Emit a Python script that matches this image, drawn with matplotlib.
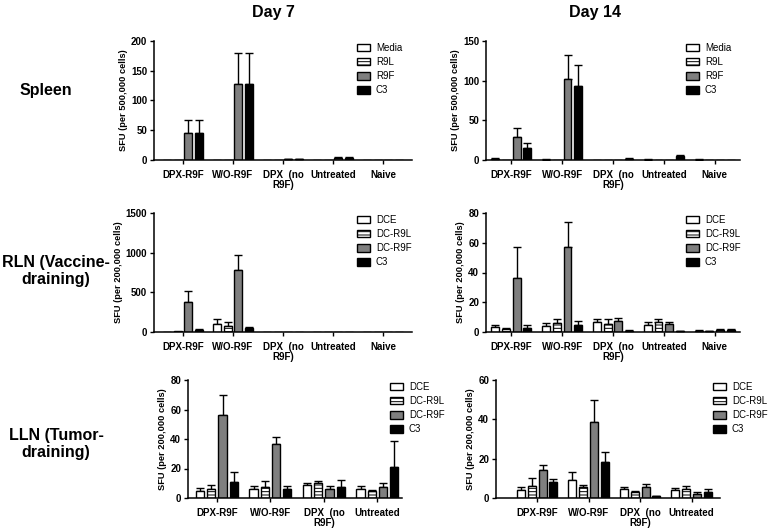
import numpy as np
import matplotlib.pyplot as plt
from matplotlib.patches import Patch

plt.rcParams['font.family'] = ['Liberation Sans', 'DejaVu Sans']
plt.rcParams['hatch.linewidth'] = 0.7

groups5 = ['DPX-R9F', 'W/O-R9F', 'DPX  (no\nR9F)', 'Untreated', 'Naive']
groups4 = groups5[:4]
spleen_series = ['Media', 'R9L', 'R9F', 'C3']
ln_series = ['DCE', 'DC-R9L', 'DC-R9F', 'C3']

# rows = series, columns = groups
spleen7 = [[0, 0, 0, 0, 0],
           [0, 0, 0, 0, 0],
           [45, 128, 1.5, 3.5, 0],
           [45, 128, 1.5, 3.5, 0]]
spleen7_err = [[0, 0, 0, 0, 0],
               [0, 0, 0, 0, 0],
               [22, 52, 0.5, 1, 0],
               [22, 52, 0.5, 1, 0]]

spleen14 = [[1.8, 0.6, 0, 0.5, 0.5],
            [0.5, 0.5, 0.5, 0.3, 0],
            [29, 101.5, 0, 0, 0],
            [15.5, 93, 1.5, 4.5, 0]]
spleen14_err = [[0.5, 0.2, 0, 0.2, 0.2],
                [0, 0, 0, 0, 0],
                [11, 31, 0, 0, 0],
                [6.3, 27, 0.5, 1.7, 0]]

rln7 = [[5, 100, 3, 2, 0],
        [8, 78, 3, 2, 0],
        [378, 778, 0, 0, 0],
        [30, 50, 0, 0, 0]]
rln7_err = [[0, 62, 0, 0, 0],
            [0, 45, 0, 0, 0],
            [135, 197, 0, 0, 0],
            [5, 18, 0, 0, 0]]

rln14 = [[3.5, 4, 6.5, 5, 1],
         [2, 6, 5.5, 6.5, 0.5],
         [36, 57, 7.5, 5.5, 1.5],
         [3, 5, 1, 0.5, 1.5]]
rln14_err = [[1.5, 2, 2, 2, 0.2],
             [0.5, 3, 3.5, 2.5, 0.2],
             [21, 17, 2, 1, 0.3],
             [1.8, 2.5, 0.3, 0.2, 0.5]]

lln7 = [[4.9, 6.4, 9.1, 6.2],
        [6.2, 7.5, 10.4, 4.7],
        [56, 36.7, 6.4, 7.5],
        [10.7, 6.2, 7.5, 21.3]]
lln7_err = [[2.1, 1.8, 1.3, 1.8],
            [2.5, 3.8, 1.1, 0.8],
            [14, 4.6, 2, 2.9],
            [6.6, 1.8, 4.9, 17.1]]

lln14 = [[4.2, 9.3, 4.8, 4],
         [6.3, 5.5, 3, 4.5],
         [14.3, 38.5, 5.5, 2.2],
         [8.3, 18.3, 1, 3.3]]
lln14_err = [[1.6, 3.7, 1, 1],
             [3.9, 1, 0.7, 1.8],
             [2.4, 11.2, 1.8, 0.6],
             [1.2, 5, 0.2, 1.4]]

face = ['white', 'white', '#7f7f7f', 'black']
hatch = [None, '-----', None, None]

W, H = 769, 530
fig = plt.figure(figsize=(W / 100, H / 100), dpi=100)


def px_rect(x0, y0, x1, y1):
    return [x0 / W, 1 - y1 / H, (x1 - x0) / W, (y1 - y0) / H]


def panel(rect, vals, errs, groups, series, ylim, yticks, ylabel, xlim, leg_xy):
    ax = fig.add_axes(px_rect(*rect))
    x = np.arange(len(groups))
    for i in range(4):
        pos = x + (i - 1.5) * 0.21
        v = np.array(vals[i], dtype=float)
        e = np.array(errs[i], dtype=float)
        ax.bar(pos, v, 0.155, color=face[i], edgecolor='black', lw=1.0,
               hatch=hatch[i], zorder=2)
        m = e > 0
        if m.any():
            ax.errorbar(pos[m], v[m], yerr=[np.zeros(m.sum()), e[m]], fmt='none',
                        ecolor='black', elinewidth=1.0, capsize=3, capthick=1.0, zorder=1)
    ax.set_xlim(*xlim)
    ax.set_ylim(*ylim)
    ax.set_yticks(yticks)
    ax.set_xticks(x)
    ax.set_xticklabels(groups, fontsize=7, fontweight='bold', linespacing=1.05)
    for t in ax.get_yticklabels():
        t.set_fontsize(7)
        t.set_fontweight('bold')
    ax.set_ylabel(ylabel, fontsize=6.7, fontweight='bold', labelpad=2)
    for s in ['top', 'right']:
        ax.spines[s].set_visible(False)
    for s in ['left', 'bottom']:
        ax.spines[s].set_linewidth(1.1)
    ax.tick_params(length=3, width=1.0, pad=2)
    ax.tick_params(axis='x', pad=4)
    handles = [Patch(facecolor=face[i], edgecolor='black', hatch=hatch[i], lw=1.0)
               for i in range(4)]
    fig.legend(handles, series, loc='upper left',
               bbox_to_anchor=(leg_xy[0] / W, 1 - leg_xy[1] / H),
               frameon=False, fontsize=7, borderpad=0, borderaxespad=0,
               handlelength=1.35, handleheight=0.8, handletextpad=0.6,
               labelspacing=0.42)
    return ax


panel((154, 41, 412, 160), spleen7, spleen7_err, groups5, spleen_series,
      (0, 200), [0, 50, 100, 150, 200], 'SFU (per 500,000 cells)', (-0.58, 4.58), (357, 43))
panel((486, 41, 740, 160), spleen14, spleen14_err, groups5, spleen_series,
      (0, 150), [0, 50, 100, 150], 'SFU (per 500,000 cells)', (-0.5, 4.5), (686, 43))
panel((154, 213, 412, 332), rln7, rln7_err, groups5, ln_series,
      (0, 1500), [0, 500, 1000, 1500], 'SFU (per 200,000 cells)', (-0.58, 4.58), (357, 215))
panel((486, 213, 740, 332), rln14, rln14_err, groups5, ln_series,
      (0, 80), [0, 20, 40, 60, 80], 'SFU (per 200,000 cells)', (-0.5, 4.5), (686, 215))
panel((188, 380, 402, 498), lln7, lln7_err, groups4, ln_series,
      (0, 80), [0, 20, 40, 60, 80], 'SFU (per 200,000 cells)', (-0.54, 3.46), (390, 382))
panel((496, 380, 720, 498), lln14, lln14_err, groups4, ln_series,
      (0, 60), [0, 20, 40, 60], 'SFU (per 200,000 cells)', (-0.8, 3.55), (713, 382))

fig.text(273 / W, 1 - 12 / H, 'Day 7', ha='center', va='center', fontsize=11.5, fontweight='bold')
fig.text(595 / W, 1 - 12 / H, 'Day 14', ha='center', va='center', fontsize=11.5, fontweight='bold')
fig.text(46 / W, 1 - 90 / H, 'Spleen', ha='center', va='center', fontsize=11.5, fontweight='bold')
fig.text(56 / W, 1 - 271 / H, 'RLN (Vaccine-\ndraining)', ha='center', va='center',
         fontsize=11.5, fontweight='bold', linespacing=1.15)
fig.text(56 / W, 1 - 444 / H, 'LLN (Tumor-\ndraining)', ha='center', va='center',
         fontsize=11.5, fontweight='bold', linespacing=1.15)

fig.savefig('out.png', dpi=100)
